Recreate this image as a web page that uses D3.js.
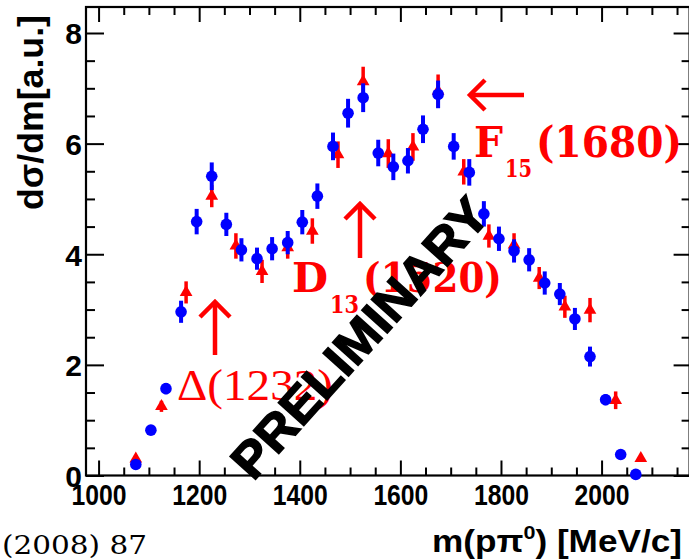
<!DOCTYPE html>
<html>
<head>
<meta charset="utf-8">
<script src="https://cdn.jsdelivr.net/npm/d3@7"></script>
<style>
  html, body { margin: 0; padding: 0; background: #fff; }
  svg { display: block; }
</style>
</head>
<body>
<svg id="chart" width="689" height="559"></svg>
<script>
// Invariant mass spectrum m(p pi0): two data sets with statistical errors
const blueMass = [1074,1104,1134,1164,1195,1225,1254,1284,1315,1345,1376,1405,1435,1466,1496,1526,1556,1586,1615,1645,1675,1706,1737,1766,1796,1826,1856,1887,1917,1947,1977,2008,2038,2068];
const blueValue = [0.2,0.82,1.57,2.96,4.59,5.41,4.54,4.08,3.92,4.1,4.21,4.58,5.05,5.95,6.55,6.83,5.83,5.58,5.69,6.26,6.89,5.95,5.48,4.73,4.28,4.06,3.9,3.48,3.28,2.83,2.15,1.37,0.38,0.02];
const blueError = [0.05,0.08,0.1,0.2,0.23,0.25,0.21,0.21,0.2,0.21,0.21,0.22,0.23,0.25,0.26,0.26,0.24,0.24,0.23,0.25,0.25,0.24,0.24,0.23,0.22,0.21,0.21,0.21,0.2,0.2,0.18,0.1,0.06,0.02];

const redMass = [1074,1125,1174,1225,1273,1325,1376,1425,1476,1526,1576,1625,1675,1726,1776,1826,1876,1927,1977,2028,2078];
const redValue = [0.3,1.25,3.31,5.05,4.15,3.69,4.12,4.42,5.8,7.12,5.82,5.94,6.95,5.49,4.33,4.17,3.57,3.05,2.99,1.36,0.31];
const redError = [0.05,0.1,0.2,0.2,0.23,0.21,0.2,0.23,0.24,0.27,0.26,0.25,0.3,0.23,0.21,0.21,0.2,0.2,0.22,0.16,0.05];

const xMajorTicks = [1000,1200,1400,1600,1800,2000];
const yMajorTicks = [0,2,4,6,8];

// Resonance annotations
const resonances = [
  { name: "Δ", sub: "", mass: "(1232)" },
  { name: "D", sub: "13", mass: "(1520)" },
  { name: "F", sub: "15", mass: "(1680)" }
];

const svg = d3.select("#chart");
const L = 86, R = 689.6, T = 7, B = 475.5;

const x = d3.scaleLinear().domain([975, 2175]).range([L, R]);
const y = d3.scaleLinear().domain([0, 8.47]).range([B, T]);

const xMinor = d3.range(1000, 2176, 50).filter(v => v % 200 !== 0);
const yMinor = d3.range(0.5, 8.47, 0.5).filter(v => v % 2 !== 0);

const axisFont = "'Liberation Sans', Arial, Helvetica, sans-serif";

function styleAxis(g) {
  g.select(".domain").remove();
  g.selectAll(".tick line").attr("stroke", "#000").attr("stroke-width", 2);
}

// bottom axis
svg.append("g").attr("transform", `translate(0,${B})`)
  .call(d3.axisBottom(x).tickValues(xMajorTicks).tickSize(-15).tickPadding(29).tickFormat(d3.format("d")))
  .call(styleAxis)
  .call(g => g.selectAll(".tick text")
    .attr("font-family", axisFont).attr("font-weight", "bold").attr("font-size", 30)
    .attr("fill", "#000").attr("dy", 0)
    .attr("textLength", 55).attr("lengthAdjust", "spacingAndGlyphs"));
svg.append("g").attr("transform", `translate(0,${B})`)
  .call(d3.axisBottom(x).tickValues(xMinor).tickSize(-8).tickFormat(""))
  .call(styleAxis);

// top axis
svg.append("g").attr("transform", `translate(0,${T})`)
  .call(d3.axisTop(x).tickValues(xMajorTicks).tickSize(-15).tickFormat(""))
  .call(styleAxis);
svg.append("g").attr("transform", `translate(0,${T})`)
  .call(d3.axisTop(x).tickValues(xMinor).tickSize(-8).tickFormat(""))
  .call(styleAxis);

// left axis
svg.append("g").attr("transform", `translate(${L},0)`)
  .call(d3.axisLeft(y).tickValues(yMajorTicks).tickSize(-18).tickPadding(4).tickFormat(d3.format("d")))
  .call(styleAxis)
  .call(g => g.selectAll(".tick text")
    .attr("font-family", axisFont).attr("font-weight", "bold").attr("font-size", 30)
    .attr("fill", "#000").attr("dy", "0.36em"));
svg.append("g").attr("transform", `translate(${L},0)`)
  .call(d3.axisLeft(y).tickValues(yMinor).tickSize(-9).tickFormat(""))
  .call(styleAxis);

// right axis
svg.append("g").attr("transform", `translate(${R},0)`)
  .call(d3.axisRight(y).tickValues(yMajorTicks).tickSize(-16).tickFormat(""))
  .call(styleAxis);
svg.append("g").attr("transform", `translate(${R},0)`)
  .call(d3.axisRight(y).tickValues(yMinor).tickSize(-8).tickFormat(""))
  .call(styleAxis);

// frame
svg.append("rect").attr("x", L).attr("y", T).attr("width", R - L).attr("height", B - T)
  .attr("fill", "none").attr("stroke", "#000").attr("stroke-width", 2.2);

// data: red set below, blue set on top
const red = redMass.map((m, i) => ({ m, v: redValue[i], e: redError[i] }));
const blue = blueMass.map((m, i) => ({ m, v: blueValue[i], e: blueError[i] }));

const gRed = svg.append("g");
gRed.selectAll("line").data(red).join("line")
  .attr("x1", d => x(d.m)).attr("x2", d => x(d.m))
  .attr("y1", d => y(d.v - d.e)).attr("y2", d => y(d.v + d.e))
  .attr("stroke", "#ff0000").attr("stroke-width", 3.5);
gRed.selectAll("path").data(red).join("path")
  .attr("d", d3.symbol(d3.symbolTriangle, 70))
  .attr("transform", d => `translate(${x(d.m)},${y(d.v)})`)
  .attr("fill", "#ff0000");

const gBlue = svg.append("g");
gBlue.selectAll("line").data(blue).join("line")
  .attr("x1", d => x(d.m)).attr("x2", d => x(d.m))
  .attr("y1", d => y(d.v - d.e)).attr("y2", d => y(d.v + d.e))
  .attr("stroke", "#0000ff").attr("stroke-width", 4);
gBlue.selectAll("circle").data(blue).join("circle")
  .attr("cx", d => x(d.m)).attr("cy", d => y(d.v)).attr("r", 5.8)
  .attr("fill", "#0000ff");

// axis titles
svg.append("text")
  .attr("x", 682).attr("y", 552).attr("text-anchor", "end")
  .attr("font-family", axisFont).attr("font-weight", "bold").attr("font-size", 31)
  .attr("textLength", 250).attr("lengthAdjust", "spacingAndGlyphs")
  .call(t => {
    t.append("tspan").text("m(pπ");
    t.append("tspan").attr("font-size", 19).attr("dy", -13).text("0");
    t.append("tspan").attr("dy", 13).text(") [MeV/c]");
  });

svg.append("text")
  .attr("transform", "translate(43,15) rotate(-90)")
  .attr("text-anchor", "end")
  .attr("font-family", axisFont).attr("font-weight", "bold").attr("font-size", 35)
  .attr("textLength", 195).attr("lengthAdjust", "spacingAndGlyphs")
  .text("dσ/dm[a.u.]");

// resonance arrows
const arrowStyle = g => g.attr("stroke", "#ff0000").attr("stroke-width", 4.5).attr("fill", "none");
function upArrow(cx, tip, bottom) {
  const g = svg.append("g").call(arrowStyle);
  g.append("line").attr("x1", cx).attr("x2", cx).attr("y1", tip).attr("y2", bottom);
  g.append("polyline").attr("points", `${cx - 15},${tip + 15} ${cx},${tip} ${cx + 15},${tip + 15}`);
}
upArrow(215, 302, 355);
upArrow(360, 204, 258);
{
  const g = svg.append("g").call(arrowStyle);
  g.append("line").attr("x1", 470).attr("x2", 524).attr("y1", 95).attr("y2", 95);
  g.append("polyline").attr("points", `485,80 470,95 485,110`);
}

// resonance labels
const serif = "'DejaVu Serif', serif";
const times = "'Liberation Serif', 'Times New Roman', serif";

svg.append("text").attr("x", 177).attr("y", 400)
  .attr("font-family", times).attr("font-size", 45).attr("fill", "#ff0000")
  .attr("textLength", 156).attr("lengthAdjust", "spacingAndGlyphs")
  .text(resonances[0].name + resonances[0].mass);

function resonanceLabel(r, x0, base, size, subX, subBase, subSize, massX, massLen) {
  svg.append("text").attr("x", x0).attr("y", base)
    .attr("font-family", serif).attr("font-weight", "bold").attr("font-size", size).attr("fill", "#ff0000")
    .attr("textLength", subX - x0 - 2).attr("lengthAdjust", "spacingAndGlyphs").text(r.name);
  svg.append("text").attr("x", subX).attr("y", subBase)
    .attr("font-family", serif).attr("font-weight", "bold").attr("font-size", subSize).attr("fill", "#ff0000")
    .attr("textLength", massX - subX - 4).attr("lengthAdjust", "spacingAndGlyphs").text(r.sub);
  svg.append("text").attr("x", massX).attr("y", base)
    .attr("font-family", serif).attr("font-weight", "bold").attr("font-size", size).attr("fill", "#ff0000")
    .attr("textLength", massLen).attr("lengthAdjust", "spacingAndGlyphs").text(r.mass);
}
resonanceLabel(resonances[1], 292, 292, 41, 330, 313, 24, 363, 139);
resonanceLabel(resonances[2], 474, 157, 43, 505, 177, 24, 536, 146);

// watermark
svg.append("text")
  .attr("transform", "translate(360,338) rotate(-48)")
  .attr("text-anchor", "middle").attr("dominant-baseline", "central")
  .attr("font-family", axisFont).attr("font-weight", "bold").attr("font-size", 50)
  .attr("textLength", 357).attr("lengthAdjust", "spacingAndGlyphs")
  .attr("fill", "#000").attr("stroke", "#000").attr("stroke-width", 1.5)
  .text("PRELIMINARY");

// reference fragment at bottom left
svg.append("text").attr("x", 2).attr("y", 554)
  .attr("font-family", serif).attr("font-size", 26).attr("fill", "#000")
  .attr("textLength", 145).attr("lengthAdjust", "spacingAndGlyphs")
  .text("(2008) 87");
</script>
</body>
</html>
